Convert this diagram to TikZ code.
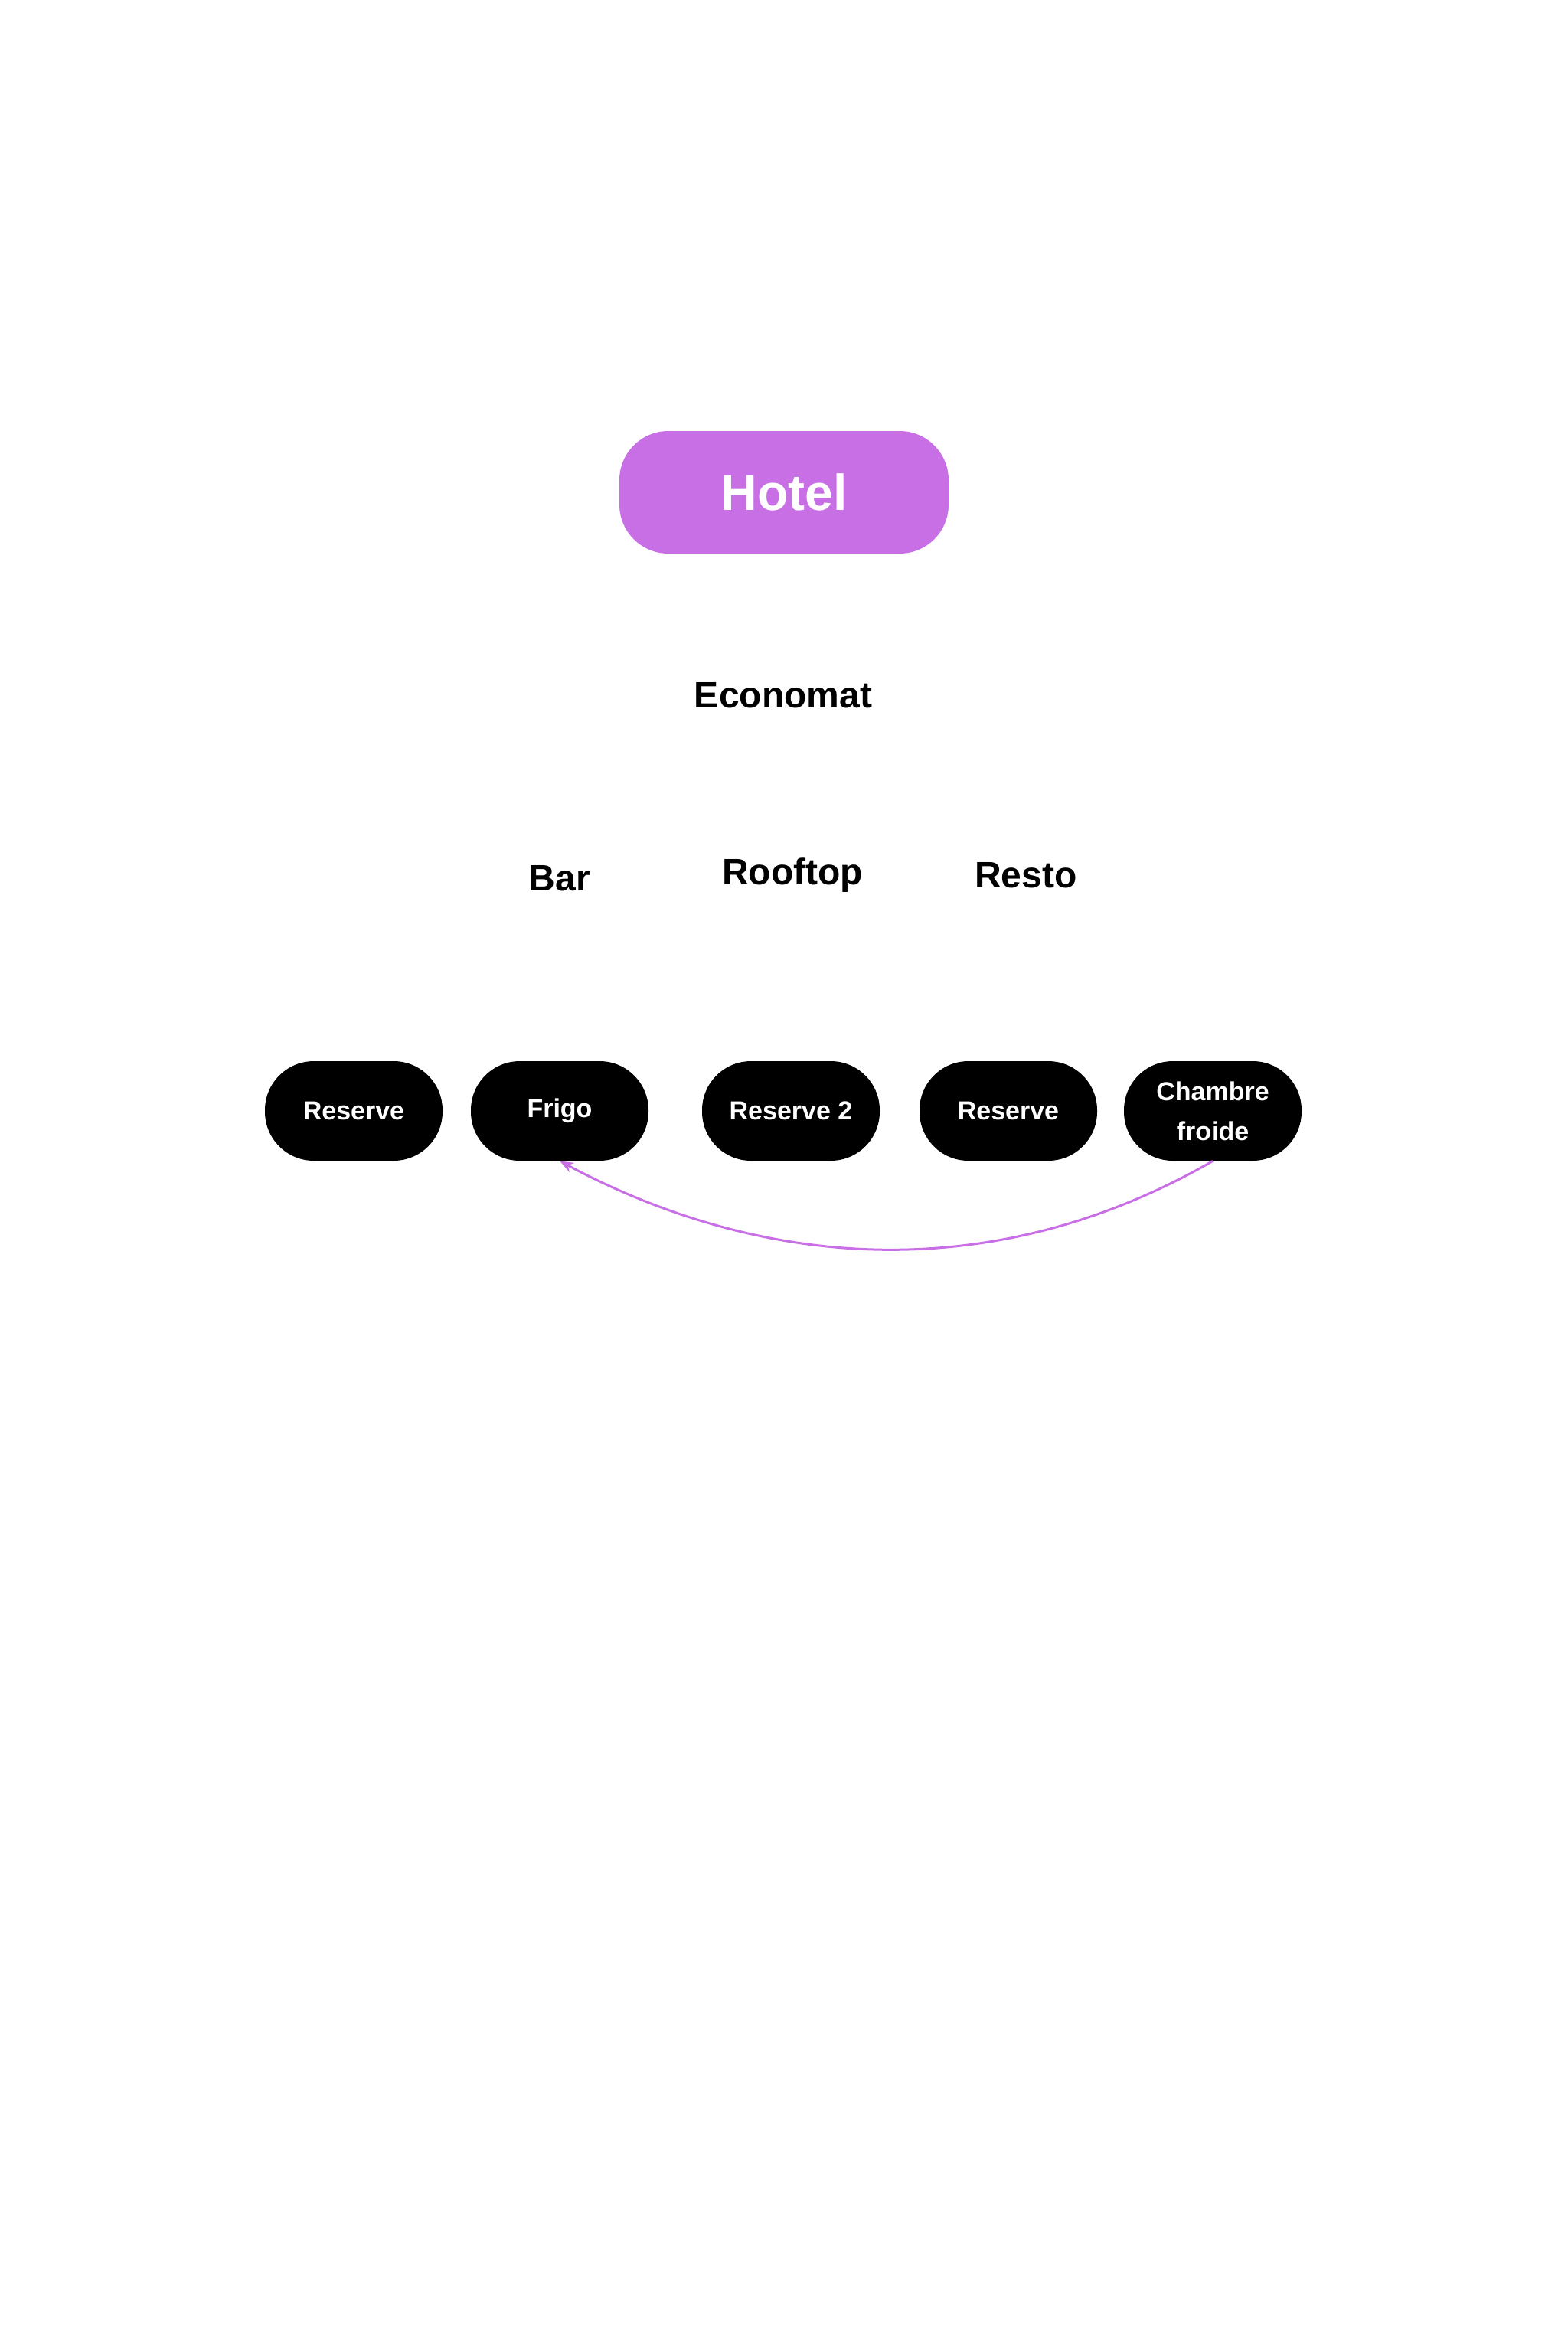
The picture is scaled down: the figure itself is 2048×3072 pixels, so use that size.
\documentclass[tikz,border=0pt]{standalone}
\usepackage{fontspec}
\setmainfont{Liberation Sans}
\usetikzlibrary{arrows.meta, positioning}
\definecolor{hotelpink}{RGB}{200,111,230}
\begin{document}
\begin{tikzpicture}[x=0.5pt, y=-0.5pt,
    store/.style={fill=black, text=white, rounded corners=32pt, minimum width=116pt, minimum height=65pt, align=center, font=\fontsize{17}{26}\selectfont\bfseries, inner sep=0pt},
    site/.style={font=\fontsize{24}{28}\selectfont\bfseries}]
      \useasboundingbox (0,0) rectangle (2048,3072);
      % Top: hotel
      \node[fill=hotelpink, text=white, rounded corners=32pt, minimum width=215pt, minimum height=80pt, font=\fontsize{33}{38}\selectfont\bfseries] (hotel) at (1024,643) {Hotel};
      \node[site] (eco) at (1023,908) {Economat};

      % Sites
      \node[site] (bar) at (731,1147) {Bar};
      \node[site] (roof) at (1035,1143) {Rooftop};
      \node[site] (resto) at (1340,1143) {Resto};

      % Storage places
      \node[store] (res1) at (462,1451) {Reserve};
      \node[store] (frigo) at (731,1451) {Frigo};
      \node[store] (res2) at (1033,1451) {Reserve 2};
      \node[store] (res3) at (1317,1451) {Reserve};
      \node[store] (chf) at (1584,1451) {Chambre\\froide};

      % Transfer
      \draw[-{Stealth[length=9pt]}, line width=1.5pt, hotelpink] (chf.south) .. controls (1300,1680) and (1000,1660) .. (frigo.south);
    \end{tikzpicture}
\end{document}
